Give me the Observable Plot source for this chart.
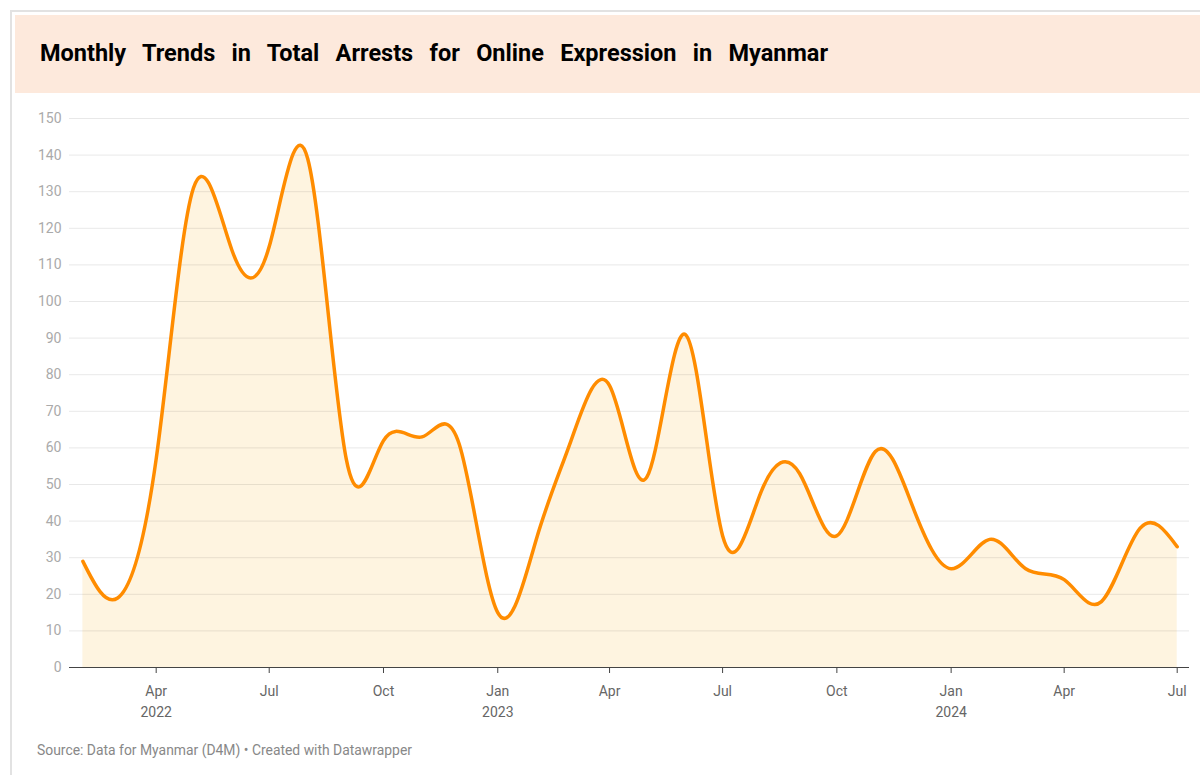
<!DOCTYPE html>
<html><head><meta charset="utf-8">
<script src="https://cdn.jsdelivr.net/npm/d3@7"></script>
<script src="https://cdn.jsdelivr.net/npm/@observablehq/plot@0.6"></script>
<style>
body{margin:0;background:#fff;font-family:Roboto,"Noto Sans",sans-serif;width:1200px;height:775px;overflow:hidden;position:relative;}
#frame{position:absolute;left:10px;top:10px;width:1200px;height:780px;border-left:2px solid #e2e2e2;border-top:2px solid #e2e2e2;}
#header{position:absolute;left:15px;top:15px;width:1185px;height:78px;background:#fde9dc;}
#title{position:absolute;left:40px;top:41px;font-size:23.5px;line-height:24px;font-weight:700;word-spacing:10.5px;color:#000;white-space:nowrap;}
#chart{position:absolute;left:0;top:100px;}
#source{position:absolute;left:37px;top:742px;font-size:13.9px;line-height:17px;color:#888;white-space:nowrap;}
</style></head>
<body>
<div id="frame"></div>
<div id="header"></div>
<div id="title">Monthly Trends in Total Arrests for Online Expression in Myanmar</div>
<div id="chart"></div>
<div id="source">Source: Data for Myanmar (D4M) • Created with Datawrapper</div>
<script>
const months = ["2022-02","2022-03","2022-04","2022-05","2022-06","2022-07","2022-08","2022-09","2022-10","2022-11","2022-12",
  "2023-01","2023-02","2023-03","2023-04","2023-05","2023-06","2023-07","2023-08","2023-09","2023-10","2023-11","2023-12",
  "2024-01","2024-02","2024-03","2024-04","2024-05","2024-06","2024-07"];
const arrests = [29,19,57,131,114,115,139,57,62,63,61,
  15,35,62,77,52,91,36,48,53,36,59,44,
  27,35,27,24,18,38,33];
const xTicks = ["2022-04","2022-07","2022-10","2023-01","2023-04","2023-07","2023-10","2024-01","2024-04","2024-07"];
const yTicks = [0,10,20,30,40,50,60,70,80,90,100,110,120,130,140,150];

const parse = d3.utcParse("%Y-%m");
const data = months.map((m, i) => ({date: parse(m), value: arrests[i]}));
const tickDates = xTicks.map(parse);
const fmtMonth = d3.utcFormat("%b");
const tickLabel = (d, i) => fmtMonth(d) + ((i === 0 || d.getUTCMonth() === 0) ? "\n" + d.getUTCFullYear() : "");

const chart = Plot.plot({
  width: 1200,
  height: 630,
  marginLeft: 69,
  marginRight: 11,
  marginTop: 18,
  marginBottom: 63,
  style: {fontFamily: "Roboto, sans-serif", background: "transparent"},
  x: {type: "utc", domain: [parse("2022-02"), parse("2024-07")], insetLeft: 13.4, insetRight: 12.3},
  y: {domain: [0, 150]},
  marks: [
    Plot.areaY(data, {x: "date", y: "value", curve: "natural", fill: "#fef4e0"}),
    Plot.ruleY(yTicks.filter(d => d > 0), {stroke: "#000", strokeOpacity: 0.09, strokeWidth: 1}),
    Plot.axisY({ticks: yTicks, tickSize: 0, tickPadding: 8, fontSize: 14, color: "#aaa", label: null}),
    Plot.lineY(data, {x: "date", y: "value", curve: "natural", stroke: "#ff8c00", strokeWidth: 3.5}),
    Plot.ruleY([0], {stroke: "#444", strokeWidth: 1}),
    Plot.axisX({ticks: tickDates, tickFormat: tickLabel, tickSize: 6, tickPadding: 8, fontSize: 14, color: "#666", stroke: "#444", lineHeight: 1.5, label: null})
  ]
});
document.getElementById("chart").appendChild(chart);
</script>
</body></html>
